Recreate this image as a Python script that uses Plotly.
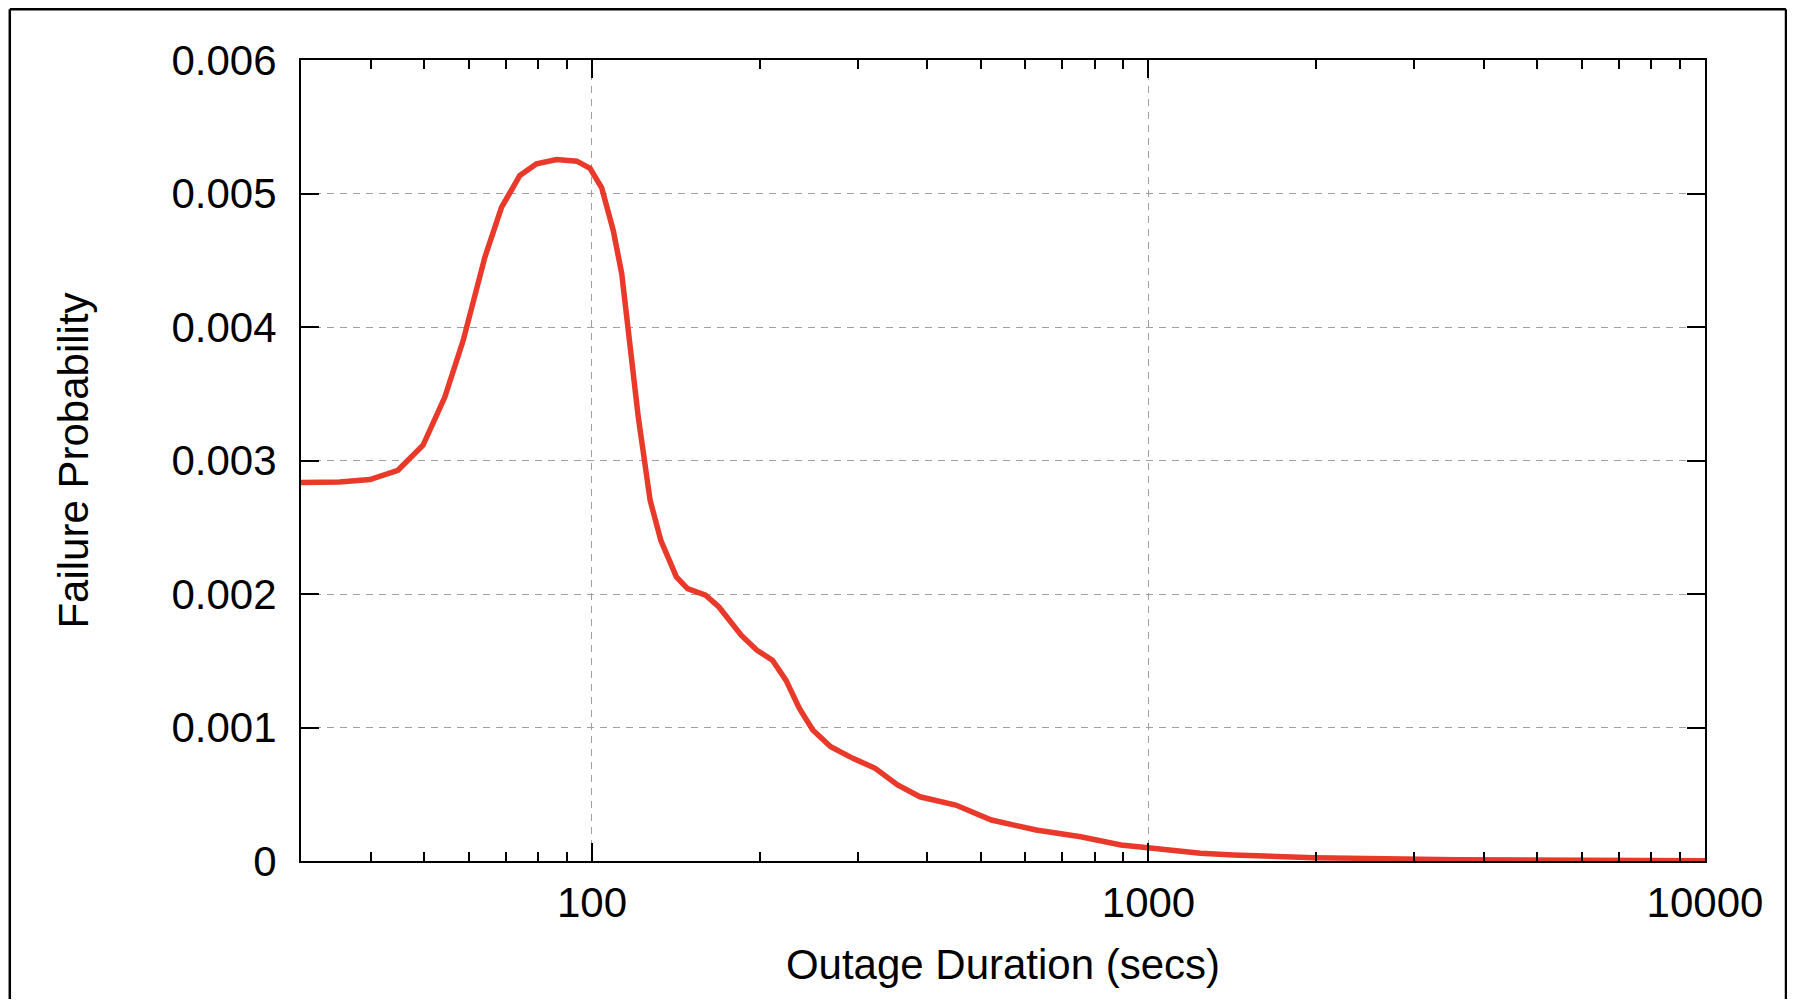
import math
import plotly.graph_objects as go

# ---- data ----
duration_secs = [30, 35.2, 39.9, 44.8, 49.7, 54.4, 58.7, 64.2, 68.8, 74.2, 79.5, 86.4,
                 93.9, 99.2, 104.1, 109.2, 113.1, 116.2, 121.1, 127.2, 133, 141.8, 148.5,
                 160, 169.1, 185.4, 197.8, 211, 223.1, 235.9, 249.3, 268.5, 294.4, 322.8,
                 354.1, 388.4, 450.4, 522.2, 628.1, 755.6, 892.4, 997, 1240, 1422, 1982,
                 3575, 5500, 10000]
failure_prob = [0.002835, 0.002839, 0.002857, 0.002927, 0.003114, 0.003475, 0.003900,
                0.004523, 0.004897, 0.005135, 0.005222, 0.005254, 0.005242, 0.005189,
                0.005043, 0.004723, 0.004399, 0.003999, 0.003326, 0.002702, 0.002400,
                0.002128, 0.002041, 0.001991, 0.001903, 0.001692, 0.001579, 0.001504,
                0.001355, 0.001143, 0.000981, 0.000856, 0.000769, 0.000694, 0.000569,
                0.000481, 0.000419, 0.000307, 0.000232, 0.000182, 0.000120, 0.000100,
                0.000058, 0.000045, 0.000025, 0.000010, 0.000004, 0.000002]

x_tick_vals = [100, 1000, 10000]
x_tick_text = ["100", "1000", "10000"]
x_minor_vals = [40, 50, 60, 70, 80, 90, 200, 300, 400, 500, 600, 700, 800, 900,
                2000, 3000, 4000, 5000, 6000, 7000, 8000, 9000]
y_tick_vals = [0, 0.001, 0.002, 0.003, 0.004, 0.005, 0.006]
y_tick_text = ["0", "0.001", "0.002", "0.003", "0.004", "0.005", "0.006"]

x_title = "Outage Duration (secs)"
y_title = "Failure Probability"

FONT = "Liberation Sans, Arial, Helvetica, sans-serif"
# The page body has an 8px margin, so the figure is drawn 8px in from the corner.
OFF = 8
W, H = 1795 - OFF, 1007 - 2 * OFF
L = 301 - OFF
T = 60 - OFF
R = 1795 - 1705
B = H - (861 - OFF)

fig = go.Figure()
fig.add_trace(go.Scatter(
    x=duration_secs, y=failure_prob, mode="lines",
    line=dict(color="#E8392A", width=5.5),
    showlegend=False, hoverinfo="x+y",
))

grid = dict(showgrid=True, gridcolor="#a0a0a0", gridwidth=1, griddash="7px,6px")

fig.update_xaxes(
    type="log", range=[math.log10(30), 4],
    tickmode="array", tickvals=x_tick_vals, ticktext=x_tick_text,
    ticks="inside", ticklen=18, tickwidth=2, tickcolor="black",
    showline=True, linecolor="black", linewidth=2, mirror="ticks",
    minor=dict(tickmode="array", tickvals=x_minor_vals, ticks="inside",
               ticklen=9, tickwidth=2, tickcolor="black", showgrid=False),
    tickfont=dict(family=FONT, size=42, color="black"),
    ticklabelstandoff=4,
    title=dict(text=x_title, font=dict(family=FONT, size=42, color="black"), standoff=24),
    zeroline=False, automargin=False, **grid,
)
fig.update_yaxes(
    range=[0, 0.006],
    tickmode="array", tickvals=y_tick_vals, ticktext=y_tick_text,
    ticks="inside", ticklen=18, tickwidth=2, tickcolor="black",
    showline=True, linecolor="black", linewidth=2, mirror="ticks",
    tickfont=dict(family=FONT, size=42, color="black"),
    ticklabelstandoff=14,
    title=dict(text=y_title, font=dict(family=FONT, size=42, color="black"), standoff=70),
    zeroline=False, automargin=False, **grid,
)

# outer frame (page coords -> paper coords)
pw, ph = W - L - R, H - T - B
def px_x(page_x):
    return (page_x - OFF - L) / pw
def px_y(page_y):
    return (H - B - (page_y - OFF)) / ph

frame = dict(color="black", width=2.5)
fig.add_shape(type="line", xref="paper", yref="paper",
              x0=px_x(9.8), x1=px_x(1786), y0=px_y(9.3), y1=px_y(9.3), line=frame)
fig.add_shape(type="line", xref="paper", yref="paper",
              x0=px_x(9.8), x1=px_x(9.8), y0=px_y(9.3), y1=px_y(1040), line=frame)
fig.add_shape(type="line", xref="paper", yref="paper",
              x0=px_x(1786), x1=px_x(1786), y0=px_y(9.3), y1=px_y(1040), line=frame)

fig.update_layout(
    width=W, height=H,
    margin=dict(l=L, r=R, t=T, b=B, pad=0),
    paper_bgcolor="white", plot_bgcolor="white",
    font=dict(family=FONT, color="black"),
)

fig.write_html("out.html")
